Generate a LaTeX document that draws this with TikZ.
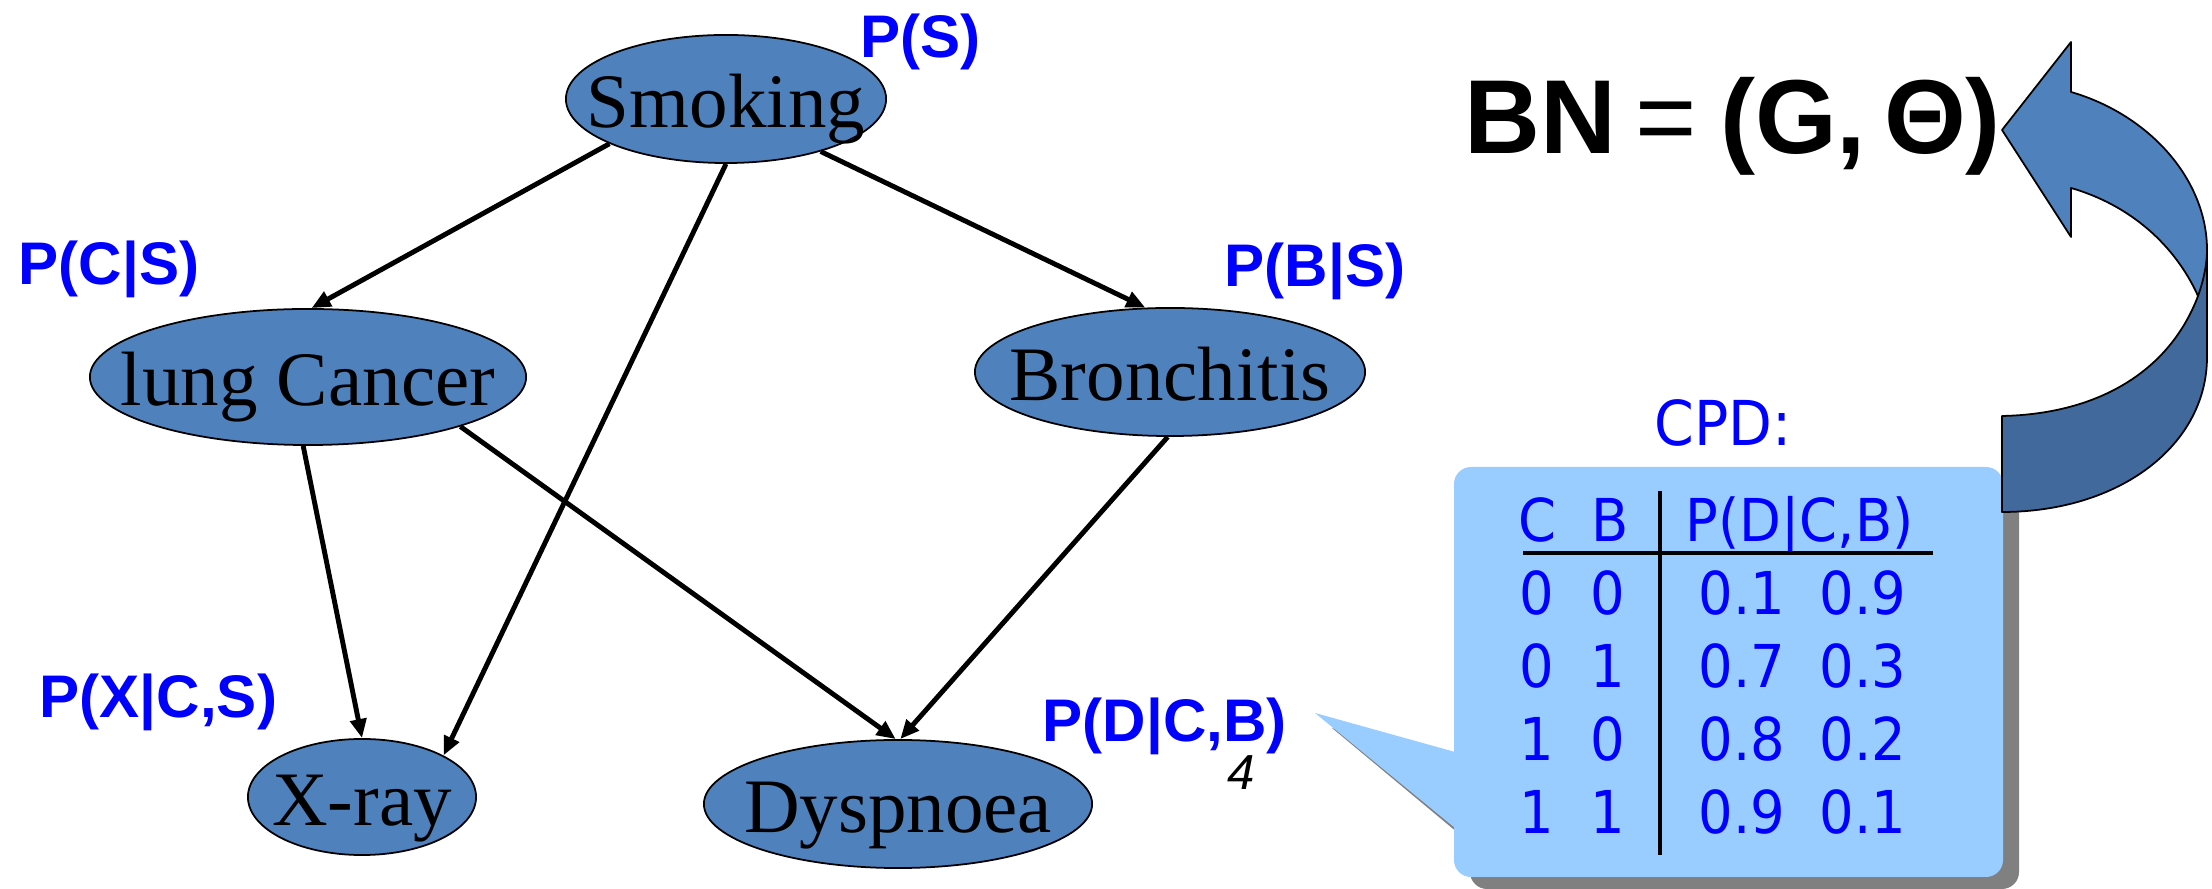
\documentclass[tikz,border=0pt]{standalone}
\usepackage{fontspec}
\setmainfont{Liberation Serif}
\newfontfamily\lsans{Liberation Sans}
\newfontfamily\cpdfont{DejaVu Sans}[FakeStretch=0.92]
\usetikzlibrary{arrows.meta,shapes.geometric}
\definecolor{nodeblue}{HTML}{4F81BD}
\definecolor{darkblue}{HTML}{41699B}
\definecolor{calloutblue}{HTML}{99CCFF}
\definecolor{shadowgray}{HTML}{808080}
\definecolor{labelblue}{HTML}{0000FF}
\begin{document}
\begin{tikzpicture}[x=0.01cm,y=-0.01cm,
  bnnode/.style={ellipse, draw=black, line width=0.5pt, fill=nodeblue, inner sep=0pt,
    text height=0.56cm, text depth=0pt, font=\fontsize{21.9}{24}\selectfont},
  edge/.style={line width=1.4pt, -{Triangle[length=0.19cm,width=0.16cm]}},
  plabel/.style={anchor=base west, inner sep=0pt, text=labelblue,
    font=\lsans\bfseries\fontsize{17.1}{19}\selectfont},
  cpd/.style={anchor=base west, inner sep=0pt, text=labelblue,
    font=\cpdfont\fontsize{16.8}{19}\selectfont},
  ribbon/.style={draw=black, line width=0.5pt, line join=round},
]
\useasboundingbox (0,0) rectangle (2212,889);

% nodes
\node[bnnode, minimum width=3.2cm, minimum height=1.28cm] (smoking) at (726,99) {\makebox[0pt]{Smoking}};
\node[bnnode, minimum width=4.36cm, minimum height=1.36cm] (cancer) at (308,377) {\makebox[0pt]{lung Cancer}};
\node[bnnode, minimum width=3.9cm, minimum height=1.28cm] (bronchitis) at (1170,372) {\makebox[0pt]{Bronchitis}};
\node[bnnode, minimum width=2.28cm, minimum height=1.16cm] (xray) at (362,797) {\makebox[0pt]{X-ray}};
\node[bnnode, minimum width=3.88cm, minimum height=1.28cm] (dyspnoea) at (898,804) {\makebox[0pt]{Dyspnoea}};

% edges
\draw[edge] (smoking.201.5) -- (cancer.87);
\draw[edge] (smoking.270) -- (xray.27);
\draw[edge] (smoking.331.5) -- (bronchitis.111);
\draw[edge] (cancer.266) -- (xray.90);
\draw[edge] (cancer.342.7) -- (dyspnoea.92);
\draw[edge] (bronchitis.268) -- (dyspnoea.88);

% labels
\node[plabel] (ps) at (860,58) {P(S)};
\node[plabel] (pcs) at (18,285) {P(C|S)};
\node[plabel] (pbs) at (1224,287) {P(B|S)};
\node[plabel] (pxcs) at (39,718) {P(X|C,S)};
\node[plabel] (pdcb) at (1042,742) {P(D|C,B)};
\node[anchor=base west, inner sep=0pt, font=\lsans\itshape\fontsize{14}{16}\selectfont] (pagenum) at (1227,790) {4};

% callout
\fill[shadowgray, rounded corners=0.17cm] (1470,479) rectangle (2019,889);
\fill[shadowgray] (1470,767) -- (1332,728) -- (1470,843) -- cycle;
\fill[calloutblue, rounded corners=0.17cm] (1454,467) rectangle (2003,877);
\fill[calloutblue] (1455,752) -- (1315,713) -- (1455,828) -- cycle;

\node[cpd, font=\cpdfont\fontsize{17.6}{20}\selectfont] (cpdlabel) at (1654,446) {CPD:};

% table
\node[cpd] (hc) at (1518,542) {C};
\node[cpd] (hb) at (1591,542) {B};
\node[cpd] (hp) at (1685,542) {P(D|C,B)};
\foreach \c/\b/\p/\q [count=\i] in {0/0/0.1/0.9, 0/1/0.7/0.3, 1/0/0.8/0.2, 1/1/0.9/0.1}{
  \node[cpd] (rc\i) at (1519,{615+(\i-1)*73}) {\c};
  \node[cpd] (rb\i) at (1590,{615+(\i-1)*73}) {\b};
  \node[cpd] (rp\i) at (1698,{615+(\i-1)*73}) {\p};
  \node[cpd] (rq\i) at (1819,{615+(\i-1)*73}) {\q};
}
\draw[line width=0.95pt] (1660,491) -- (1660,855);
\draw[line width=1.1pt] (1523,553) -- (1933,553);

% curved block arrow
\fill[darkblue] (2207,250) -- (2207,357) .. controls (2207,445) and (2120,512) .. (2002,512)
  -- (2002,416) .. controls (2100,414) and (2170,370) .. (2198,296)
  .. controls (2203,282) and (2207,265) .. (2207,250) -- cycle;
\draw[ribbon] (2207,250) -- (2207,357) .. controls (2207,445) and (2120,512) .. (2002,512)
  -- (2002,416) .. controls (2100,414) and (2170,370) .. (2198,296);
\filldraw[ribbon, fill=nodeblue] (2002,130) -- (2071,42) -- (2071,92)
  .. controls (2150,115) and (2207,180) .. (2207,250)
  .. controls (2207,265) and (2203,282) .. (2198,296)
  .. controls (2175,245) and (2130,205) .. (2071,188)
  -- (2071,237) -- cycle;

% BN equation
\node[anchor=base west, inner sep=0pt, font=\lsans\bfseries\fontsize{29.9}{32}\selectfont] (bn) at (1464,154)
  {BN\kern0.19cm{\mdseries =}\kern0.23cm(G,\kern0.18cm Θ)};
\end{tikzpicture}
\end{document}
